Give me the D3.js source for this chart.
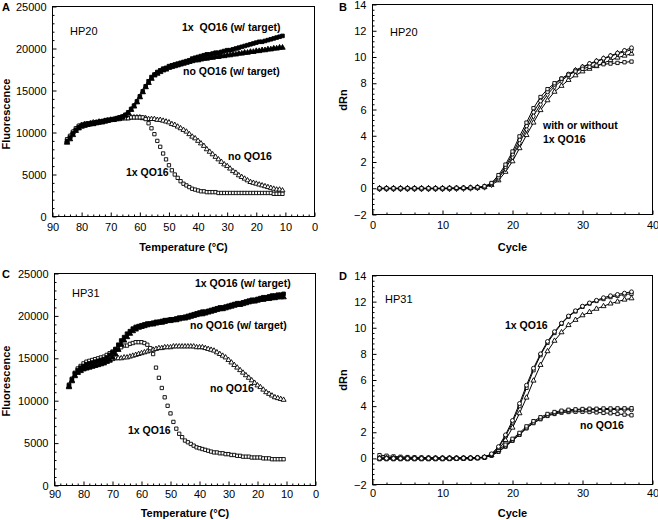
<!DOCTYPE html>
<html>
<head>
<meta charset="utf-8">
<script src="https://cdn.jsdelivr.net/npm/d3@7"></script>
<style>
  body { margin: 0; background: #fff; }
</style>
</head>
<body>
<svg id="fig" width="658" height="520"></svg>
<script>
// ---- data ----
const meltTemps = [85,84,83,82,81,80,79,78,77,76,75,74,73,72,71,70,69,68,67,66,
  65,64,63,62,61,60,59,58,57,56,55,54,53,52,51,50,49,48,47,46,
  45,44,43,42,41,40,39,38,37,36,35,34,33,32,31,30,29,28,27,26,
  25,24,23,22,21,20,19,18,17,16,15,14,13,12,11];

const cycles = [1,2,3,4,5,6,7,8,9,10,11,12,13,14,15,16,17,18,19,20,
  21,22,23,24,25,26,27,28,29,30,31,32,33,34,35,36,37];

const tempTicks = [90,80,70,60,50,40,30,20,10,0];
const fluoTicks = [0,5000,10000,15000,20000,25000];
const cycleTicks = [0,10,20,30,40];
const dRnTicks = [-2,0,2,4,6,8,10,12,14];

// Panel A, HP20 melt curves
const hp20_1xTarget = [9000,9400,9900,10300,10600,10800,10900,11000,11000,11100,11200,11200,11300,11400,11500,11500,11600,11700,11800,11900,
  12100,12400,12800,13200,13700,14300,14900,15500,16100,16600,16900,17200,17400,17600,17700,17900,18000,18100,18200,18300,
  18400,18500,18600,18800,18900,19000,19100,19200,19300,19300,19400,19500,19500,19600,19700,19800,19800,19900,20000,20100,
  20200,20300,20400,20500,20600,20700,20800,20800,20900,21000,21100,21200,21300,21400,21500];
const hp20_noTarget = [8800,9200,9700,10200,10500,10700,10800,10900,11000,11000,11100,11200,11200,11300,11400,11500,11500,11600,11700,11800,
  12000,12300,12700,13100,13600,14200,14800,15400,15900,16400,16800,17000,17200,17400,17500,17700,17800,17900,18000,18100,
  18200,18300,18400,18500,18600,18600,18700,18800,18800,18900,18900,19000,19000,19100,19100,19200,19200,19300,19300,19400,
  19400,19500,19500,19600,19600,19700,19700,19800,19800,19900,19900,20000,20000,20100,20100];
const hp20_1x = [9200,9600,10100,10500,10800,10900,11000,11100,11100,11200,11200,11300,11300,11400,11400,11500,11500,11600,11600,11700,
  11700,11700,11800,11800,11800,11800,11800,11600,11100,10500,9800,9000,8300,7500,6800,6100,5500,5000,4600,4200,
  3900,3700,3500,3300,3200,3100,3000,3000,2900,2900,2900,2900,2800,2800,2800,2800,2800,2800,2800,2800,
  2800,2800,2800,2800,2800,2800,2800,2800,2800,2800,2800,2700,2700,2700,2700];
const hp20_no = [9000,9500,10000,10400,10700,10900,11000,11000,11100,11200,11200,11300,11300,11400,11400,11500,11500,11600,11600,11700,
  11700,11700,11800,11800,11800,11800,11700,11700,11600,11600,11600,11500,11500,11400,11300,11200,11000,10900,10700,10500,
  10300,10100,9800,9500,9300,9000,8700,8400,8000,7700,7400,7100,6800,6500,6200,6000,5700,5400,5200,4900,
  4700,4500,4300,4100,4000,3900,3800,3700,3600,3500,3400,3300,3200,3200,3100];

// Panel C, HP31 melt curves
const hp31_1xTarget = [11800,12500,13200,13600,13900,14100,14300,14400,14500,14600,14700,14800,14900,15100,15400,15700,16100,16600,17100,17500,
  17900,18200,18500,18700,18800,18900,19000,19100,19100,19200,19300,19300,19400,19500,19500,19600,19600,19700,19800,19800,
  19900,20000,20100,20200,20300,20400,20500,20500,20600,20700,20800,20900,21000,21000,21100,21200,21300,21400,21500,21500,
  21600,21700,21800,21900,21900,22000,22100,22200,22200,22300,22400,22400,22500,22500,22600];
const hp31_noTarget = [11600,12300,12900,13300,13500,13700,13800,13900,14000,14100,14200,14300,14400,14600,14800,15100,15500,16000,16600,17100,
  17500,17900,18200,18400,18600,18700,18800,18900,19000,19000,19100,19200,19200,19300,19400,19400,19500,19500,19600,19700,
  19700,19800,19900,20000,20100,20200,20200,20300,20400,20500,20600,20700,20800,20800,20900,21000,21100,21200,21300,21300,
  21400,21500,21600,21700,21700,21800,21900,21900,22000,22000,22100,22100,22200,22200,22200];
const hp31_1x = [11900,12600,13300,13800,14100,14400,14600,14700,14800,14900,15000,15100,15200,15400,15600,15800,16000,16200,16300,16500,
  16500,16700,16800,16900,16900,16900,16800,16600,16200,15500,13900,12700,11500,10400,9400,8500,7500,6700,6100,5700,
  5300,5100,4900,4700,4500,4400,4300,4200,4100,4000,3900,3900,3800,3800,3700,3700,3600,3600,3500,3500,
  3400,3400,3400,3300,3300,3300,3300,3200,3200,3200,3100,3100,3100,3100,3100];
const hp31_no = [11700,12400,13000,13300,13600,13800,13900,14000,14100,14200,14300,14400,14500,14600,14700,14900,15000,15000,15000,15100,
  15100,15200,15300,15400,15500,15600,15700,15800,15900,16000,16100,16200,16200,16300,16300,16300,16400,16400,16400,16400,
  16400,16400,16400,16400,16300,16300,16300,16200,16100,16000,15900,15700,15500,15300,15100,14800,14500,14200,13900,13600,
  13300,13000,12700,12400,12100,11800,11600,11300,11000,10800,10600,10400,10300,10200,10100];

// Panel B, HP20 amplification (with or without 1x QO16)
const hp20_ampA = [0,0,0,0,0,0,0,0,0,0,0.02,0.03,0.03,0.05,0.08,
  0.15,0.4,1.0,1.8,2.8,3.95,5.0,6.1,6.95,7.55,8.0,8.35,8.65,8.9,9.1,9.25,9.35,9.45,9.5,9.55,9.6,9.65];
const hp20_ampB = [0,0,0,0,0,0,0,0,0,0,0,0,0.02,0.03,0.06,
  0.12,0.35,0.85,1.65,2.6,3.7,4.75,5.8,6.65,7.35,7.9,8.35,8.7,9.0,9.25,9.5,9.7,9.9,10.1,10.3,10.5,10.7];
const hp20_ampC = [-0.03,-0.03,-0.03,-0.03,-0.03,-0.03,-0.03,-0.03,-0.03,-0.03,-0.02,-0.01,0,0.02,0.05,
  0.1,0.3,0.75,1.5,2.4,3.45,4.5,5.5,6.4,7.15,7.75,8.2,8.6,8.95,9.2,9.45,9.65,9.85,10.05,10.25,10.4,10.55];
const hp20_ampD = [-0.02,-0.02,-0.02,-0.02,-0.02,-0.02,-0.02,-0.02,-0.02,-0.02,-0.02,-0.01,0,0.01,0.04,
  0.08,0.25,0.6,1.25,2.05,3.05,4.05,5.0,5.95,6.7,7.35,7.8,8.25,8.6,8.9,9.1,9.3,9.55,9.75,9.95,10.1,10.25];

// Panel D, HP31 amplification
const hp31_amp1xA = [0,0,0,0,0,0,0,0,0,0,0,0,0.02,0.03,0.05,
  0.1,0.35,0.9,1.8,2.9,4.2,5.6,6.9,8.0,8.95,9.7,10.35,10.9,11.3,11.65,11.9,12.1,12.3,12.45,12.55,12.65,12.75];
const hp31_amp1xB = [-0.05,-0.05,-0.05,-0.05,-0.05,-0.05,-0.05,-0.05,-0.05,-0.05,-0.04,-0.03,-0.02,0,0.03,
  0.1,0.3,0.8,1.7,2.75,4.0,5.4,6.75,7.9,8.85,9.6,10.3,10.85,11.25,11.6,11.85,12.05,12.2,12.35,12.45,12.55,12.6];
const hp31_amp1xC = [0.02,0.02,0.01,0.01,0,0,0,0,0,0,0,0,0.01,0.02,0.04,
  0.08,0.25,0.65,1.4,2.35,3.45,4.65,5.95,7.15,8.2,9.0,9.65,10.2,10.6,10.95,11.2,11.45,11.65,11.85,12.0,12.15,12.25];
const hp31_ampNoA = [0.25,0.2,0.15,0.12,0.1,0.08,0.07,0.06,0.05,0.05,0.05,0.05,0.05,0.05,0.06,
  0.1,0.3,0.65,1.05,1.5,1.95,2.45,2.85,3.15,3.4,3.55,3.65,3.72,3.75,3.78,3.8,3.8,3.82,3.82,3.83,3.83,3.84];
const hp31_ampNoB = [0.1,0.08,0.06,0.05,0.04,0.03,0.03,0.03,0.03,0.03,0.03,0.03,0.03,0.04,0.05,
  0.08,0.25,0.55,0.95,1.4,1.85,2.35,2.75,3.05,3.3,3.47,3.58,3.65,3.7,3.72,3.73,3.74,3.74,3.74,3.74,3.73,3.72];
const hp31_ampNoC = [-0.05,-0.05,-0.05,-0.05,-0.05,-0.05,-0.05,-0.05,-0.05,-0.05,-0.05,-0.04,-0.03,-0.02,0,
  0.06,0.2,0.5,0.9,1.35,1.8,2.3,2.7,3.0,3.25,3.4,3.5,3.55,3.57,3.57,3.55,3.52,3.48,3.45,3.4,3.35,3.3];

// ---- drawing ----
const FONT = '"Liberation Sans", Arial, sans-serif';
const svg = d3.select('#fig').attr('font-family', FONT);

const markers = {
    squareFill: { type: d3.symbolSquare, size: 13, fill: '#000' },
    triFill:    { type: d3.symbolTriangle, size: 13, fill: '#000' },
    square:     { type: d3.symbolSquare, size: 11, fill: '#fff' },
    tri:        { type: d3.symbolTriangle, size: 11, fill: '#fff' },
    circle:     { type: d3.symbolCircle, size: 12, fill: '#fff' },
    diamond:    { type: d3.symbolDiamond, size: 12, fill: '#fff' }
};

function makePanel(p) {
    const x = d3.scaleLinear().domain(p.xDomain).range([p.left, p.right]);
    const y = d3.scaleLinear().domain(p.yDomain).range([p.bottom, p.top]);
    const g = svg.append('g');

    // minor ticks (inward)
    g.append('g')
        .attr('transform', `translate(0,${p.bottom})`)
        .call(d3.axisBottom(x).tickValues(p.xMinor).tickSize(-2).tickFormat(''))
        .call(s => s.select('.domain').remove());
    g.append('g')
        .attr('transform', `translate(${p.left},0)`)
        .call(d3.axisLeft(y).tickValues(p.yMinor).tickSize(-2).tickFormat(''))
        .call(s => s.select('.domain').remove());

    // major ticks with labels
    g.append('g')
        .attr('transform', `translate(0,${p.bottom})`)
        .call(d3.axisBottom(x).tickValues(p.xTicks).tickSizeInner(-4).tickSizeOuter(0)
            .tickPadding(p.xPad).tickFormat(d3.format('d')))
        .attr('font-size', 11).attr('font-family', FONT)
        .call(s => s.select('.domain').remove());
    g.append('g')
        .attr('transform', `translate(${p.left},0)`)
        .call(d3.axisLeft(y).tickValues(p.yTicks).tickSizeInner(-4).tickSizeOuter(0)
            .tickPadding(6).tickFormat(d3.format('d')))
        .attr('font-size', 11).attr('font-family', FONT)
        .call(s => s.select('.domain').remove());

    g.append('rect')
        .attr('x', p.left).attr('y', p.top)
        .attr('width', p.right - p.left).attr('height', p.bottom - p.top)
        .attr('fill', 'none').attr('stroke', '#000').attr('stroke-width', 1);

    // axis titles
    g.append('text')
        .attr('x', (p.left + p.right) / 2).attr('y', p.xTitleY)
        .attr('text-anchor', 'middle').attr('font-weight', 'bold').attr('font-size', 11)
        .text(p.xTitle);
    g.append('text')
        .attr('transform', `translate(${p.yTitleX},${p.yTitleMid}) rotate(-90)`)
        .attr('text-anchor', 'middle').attr('font-weight', 'bold').attr('font-size', 11)
        .text(p.yTitle);

    // panel letter
    g.append('text')
        .attr('x', p.letterX).attr('y', p.letterY)
        .attr('font-weight', 'bold').attr('font-size', 11)
        .text(p.letter);

    return { x, y, g };
}

function drawPoints(panel, xs, ys, m) {
    const spec = markers[m];
    const path = d3.symbol().type(spec.type).size(spec.size)();
    panel.g.append('g')
        .selectAll('path')
        .data(ys.map((v, i) => [xs[i], v]))
        .join('path')
        .attr('d', path)
        .attr('transform', d => `translate(${panel.x(d[0])},${panel.y(d[1])})`)
        .attr('fill', spec.fill)
        .attr('stroke', '#000')
        .attr('stroke-width', 0.9);
}

function drawLine(panel, xs, ys) {
    const line = d3.line().x((d, i) => panel.x(xs[i])).y(d => panel.y(d));
    panel.g.append('path')
        .datum(ys)
        .attr('d', line)
        .attr('fill', 'none')
        .attr('stroke', '#000')
        .attr('stroke-width', 1);
}

function addLabel(panel, x, y, txt, bold) {
    panel.g.append('text')
        .attr('x', x).attr('y', y)
        .attr('font-size', bold ? 10.5 : 11)
        .attr('font-weight', bold ? 'bold' : 'normal')
        .attr('xml:space', 'preserve')
        .style('white-space', 'pre')
        .text(txt);
}

const tempMinor = d3.range(0, 91, 2).filter(v => v % 10 !== 0);
const fluoMinor = d3.range(0, 25001, 1000).filter(v => v % 5000 !== 0);
const cycleMinor = d3.range(0, 41, 2).filter(v => v % 10 !== 0);
const dRnMinor = d3.range(-2, 14.01, 0.4).filter(v => Math.abs(v / 2 - Math.round(v / 2)) > 0.01);

// Panel A
const pA = makePanel({
    left: 52.5, right: 314.5, top: 6.5, bottom: 216.5,
    xDomain: [90, 0], yDomain: [0, 25000],
    xTicks: tempTicks, yTicks: fluoTicks, xMinor: tempMinor, yMinor: fluoMinor, xPad: 7,
    xTitle: 'Temperature (°C)', xTitleY: 251, yTitle: 'Fluorescence', yTitleX: 10, yTitleMid: 114,
    letter: 'A', letterX: 2, letterY: 11
});
drawPoints(pA, meltTemps, hp20_no, 'tri');
drawPoints(pA, meltTemps, hp20_1x, 'square');
drawPoints(pA, meltTemps, hp20_noTarget, 'triFill');
drawPoints(pA, meltTemps, hp20_1xTarget, 'squareFill');
addLabel(pA, 70, 35, 'HP20', false);
addLabel(pA, 182, 31, '1x  QO16 (w/ target)', true);
addLabel(pA, 183, 75, 'no QO16 (w/ target)', true);
addLabel(pA, 228, 160, 'no QO16', true);
addLabel(pA, 126, 176, '1x QO16', true);

// Panel B
const pB = makePanel({
    left: 372.5, right: 652.5, top: 4.5, bottom: 214.5,
    xDomain: [0, 40], yDomain: [-2, 14],
    xTicks: cycleTicks, yTicks: dRnTicks, xMinor: cycleMinor, yMinor: dRnMinor, xPad: 7,
    xTitle: 'Cycle', xTitleY: 251, yTitle: 'dRn', yTitleX: 347, yTitleMid: 100,
    letter: 'B', letterX: 339, letterY: 11
});
[[hp20_ampD, 'tri'], [hp20_ampC, 'diamond'], [hp20_ampB, 'circle'], [hp20_ampA, 'square']].forEach(([s, m]) => {
    drawLine(pB, cycles, s);
    drawPoints(pB, cycles, s, m);
});
addLabel(pB, 390, 36, 'HP20', false);
addLabel(pB, 543, 129, 'with or without', true);
addLabel(pB, 543, 143, '1x QO16', true);

// Panel C
const pC = makePanel({
    left: 54.5, right: 315.5, top: 273.5, bottom: 485.5,
    xDomain: [90, 0], yDomain: [0, 25000],
    xTicks: tempTicks, yTicks: fluoTicks, xMinor: tempMinor, yMinor: fluoMinor, xPad: 5,
    xTitle: 'Temperature (°C)', xTitleY: 517, yTitle: 'Fluorescence', yTitleX: 10, yTitleMid: 381,
    letter: 'C', letterX: 2, letterY: 278
});
drawPoints(pC, meltTemps, hp31_no, 'tri');
drawPoints(pC, meltTemps, hp31_1x, 'square');
drawPoints(pC, meltTemps, hp31_noTarget, 'triFill');
drawPoints(pC, meltTemps, hp31_1xTarget, 'squareFill');
addLabel(pC, 72, 297, 'HP31', false);
addLabel(pC, 195, 287, '1x QO16 (w/ target)', true);
addLabel(pC, 190, 329, 'no QO16 (w/ target)', true);
addLabel(pC, 210, 392, 'no QO16', true);
addLabel(pC, 128, 434, '1x QO16', true);

// Panel D
const pD = makePanel({
    left: 372.5, right: 652.5, top: 275.5, bottom: 484.5,
    xDomain: [0, 40], yDomain: [-2, 14],
    xTicks: cycleTicks, yTicks: dRnTicks, xMinor: cycleMinor, yMinor: dRnMinor, xPad: 5,
    xTitle: 'Cycle', xTitleY: 517, yTitle: 'dRn', yTitleX: 347, yTitleMid: 380,
    letter: 'D', letterX: 339, letterY: 280
});
[[hp31_ampNoC, 'square'], [hp31_ampNoB, 'circle'], [hp31_ampNoA, 'square'],
 [hp31_amp1xC, 'tri'], [hp31_amp1xB, 'square'], [hp31_amp1xA, 'circle']].forEach(([s, m]) => {
    drawLine(pD, cycles, s);
    drawPoints(pD, cycles, s, m);
});
addLabel(pD, 385, 303, 'HP31', false);
addLabel(pD, 505, 329, '1x QO16', true);
addLabel(pD, 580, 429, 'no QO16', true);
</script>
</body>
</html>
